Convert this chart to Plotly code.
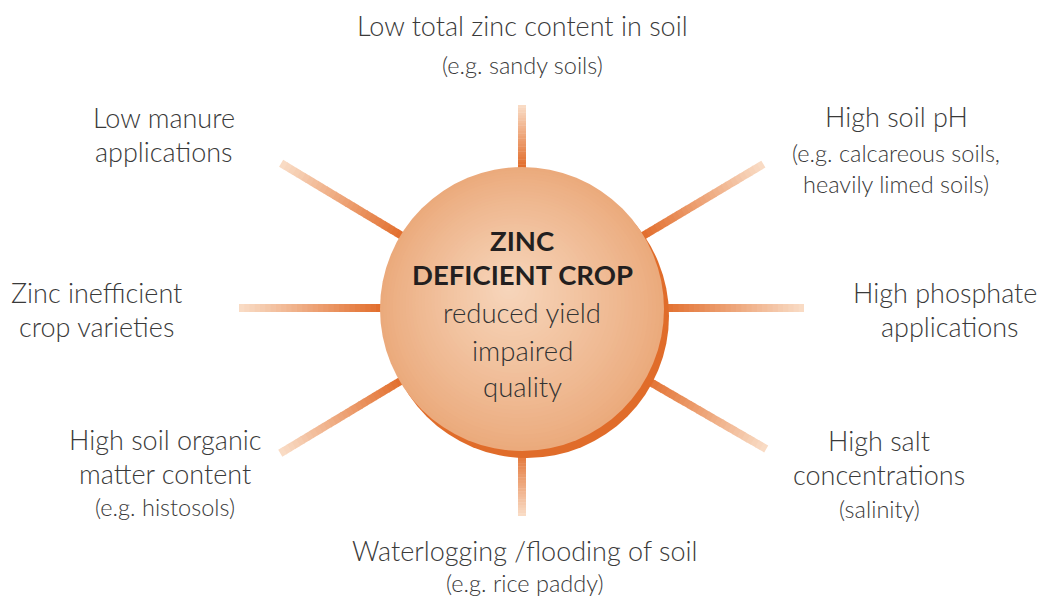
import math
import plotly.graph_objects as go

# ---------------- data ----------------
factor_titles = [
    ["Low total zinc content in soil"],
    ["High soil pH"],
    ["High phosphate", "applications"],
    ["High salt", "concentrations"],
    ["Waterlogging /flooding of soil"],
    ["High soil organic", "matter content"],
    ["Zinc inefficient", "crop varieties"],
    ["Low manure", "applications"],
]
factor_notes = [
    ["(e.g. sandy soils)"],
    ["(e.g. calcareous soils,", "heavily limed soils)"],
    [],
    ["(salinity)"],
    ["(e.g. rice paddy)"],
    ["(e.g. histosols)"],
    [],
    [],
]
center_title = ["ZINC", "DEFICIENT CROP"]
center_effects = ["reduced yield", "impaired", "quality"]

# ---------------- layout (pixel-like coordinates) ----------------
W, H = 1048, 601
CX, CY, R = 522, 309, 142           # circle face
SHADOW_DX, SHADOW_DY = 5, 7
RAY_CX, RAY_CY = 522, 308
ray_angles = [90, 30.8, 0, -30, -90, 211, 180, 149]
ray_outer = [203, 281, 282, 282, 208, 282, 283, 281]
ray_inner = 125
RAY_W = 8

label_x = [522, 896, 946, 879, 525, 165, 96, 164]
title_y = [[26], [117], [293, 327], [441, 475], [551], [440, 474], [293, 327], [118, 152]]
note_y = [[66], [154, 185], [], [510], [584], [508], [], []]
title_x_line = {2: [945, 950], 6: [96, 96]}

DARK = (226, 110, 45)
LIGHT = (249, 221, 199)


def mix(a, b, t):
    return "rgb(%d,%d,%d)" % tuple(round(a[i] + (b[i] - a[i]) * t) for i in range(3))


shapes = []
# rays with linear gradient (dark near circle -> light at end)
NSEG = 30
for ang, ro in zip(ray_angles, ray_outer):
    ca, sa = math.cos(math.radians(ang)), -math.sin(math.radians(ang))
    for k in range(NSEG):
        r0 = ray_inner + (ro - ray_inner) * k / NSEG
        r1 = ray_inner + (ro - ray_inner) * (k + 1.15) / NSEG
        r1 = min(r1, ro)
        t = max(0.0, (0.5 * (r0 + r1) - R) / (ro - R))
        shapes.append(dict(type="line", xref="x", yref="y",
                           x0=RAY_CX + r0 * ca, y0=RAY_CY + r0 * sa,
                           x1=RAY_CX + r1 * ca, y1=RAY_CY + r1 * sa,
                           line=dict(color=mix(DARK, LIGHT, t), width=RAY_W)))

# circle shadow
shapes.append(dict(type="circle", xref="x", yref="y",
                   x0=CX + SHADOW_DX - R, x1=CX + SHADOW_DX + R,
                   y0=CY + SHADOW_DY - R, y1=CY + SHADOW_DY + R,
                   fillcolor="rgb(224,108,42)", line=dict(width=0)))

# circle face with radial gradient (concentric layers)
EDGE = (235, 170, 124)
CENTRE = (247, 214, 188)
HX, HY = -14, -22
NL = 40
for k in range(NL):
    f = 1 - k / NL
    rr = R * f
    t = (1 - f) ** 0.9
    cx = CX + HX * (1 - f)
    cy = CY + HY * (1 - f)
    shapes.append(dict(type="circle", xref="x", yref="y",
                       x0=cx - rr, x1=cx + rr, y0=cy - rr, y1=cy + rr,
                       fillcolor=mix(EDGE, CENTRE, t), line=dict(width=0)))

TEXT = "#3a3a3a"
FONT = "Lato"
annotations = []


def add(txt, x, y, size, weight=300, color=TEXT):
    annotations.append(dict(text=txt, x=x, y=y, xref="x", yref="y",
                            xanchor="center", yanchor="middle", showarrow=False,
                            font=dict(family=FONT, size=size, color=color, weight=weight)))


for i, lines in enumerate(factor_titles):
    for j, line in enumerate(lines):
        x = title_x_line[i][j] if i in title_x_line else label_x[i]
        add(line, x, title_y[i][j] - 1, 27)
    for j, line in enumerate(factor_notes[i]):
        add(line, label_x[i], note_y[i][j] - 1, 23.5)

center_y_title = [241, 275]
center_y_eff = [313, 351, 387]
for line, y in zip(center_title, center_y_title):
    add(line, CX, y - 1, 27.5, weight=700, color="#231f20")
for line, y in zip(center_effects, center_y_eff):
    add(line, CX, y - 1, 27.5, weight=300, color="#333333")

fig = go.Figure()
fig.add_trace(go.Scatter(x=[0, W], y=[0, H], mode="markers",
                         marker=dict(opacity=0), hoverinfo="skip", showlegend=False))
fig.update_layout(
    width=W, height=H, margin=dict(l=0, r=0, t=0, b=0),
    paper_bgcolor="white", plot_bgcolor="white",
    xaxis=dict(range=[0, W], visible=False, fixedrange=True),
    yaxis=dict(range=[H, 0], visible=False, fixedrange=True),
    shapes=shapes, annotations=annotations, showlegend=False,
)
fig.write_html("out.html", config={"displayModeBar": False},
               post_script="document.body.style.margin='0';document.body.style.overflow='hidden';")
